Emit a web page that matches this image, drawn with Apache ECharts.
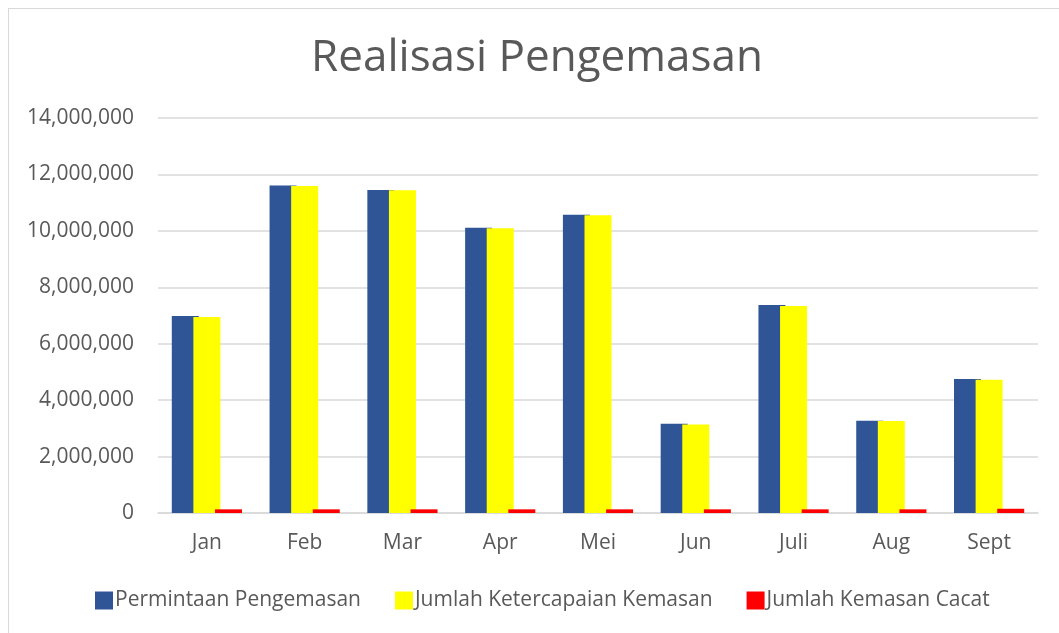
<!DOCTYPE html>
<html>
<head>
<meta charset="utf-8">
<script src="https://cdn.jsdelivr.net/npm/echarts@6/dist/echarts.min.js"></script>
<style>
  html, body { margin: 0; padding: 0; background: #fff; }
  #frame {
    position: absolute; left: 8px; top: 8px; width: 1060px; height: 640px;
    border-left: 1px solid #d9d9d9; border-top: 1px solid #d9d9d9;
  }
  #chart { position: absolute; left: 0; top: 0; width: 1059px; height: 633px; }
</style>
</head>
<body>
<div id="frame"></div>
<div id="chart"></div>
<script>
const months = ['Jan', 'Feb', 'Mar', 'Apr', 'Mei', 'Jun', 'Juli', 'Aug', 'Sept']
const permintaan = [6980000, 11610000, 11450000, 10110000, 10570000, 3160000, 7370000, 3270000, 4750000]
const ketercapaian = [6950000, 11590000, 11440000, 10090000, 10550000, 3140000, 7340000, 3260000, 4720000]
const cacat = [130000, 130000, 130000, 130000, 130000, 130000, 130000, 130000, 150000]
const yTicks = [0, 2000000, 4000000, 6000000, 8000000, 10000000, 12000000, 14000000]

const font = '"Open Sans", "Noto Sans", sans-serif'
const textColor = '#595959'

function fmt(v) {
  return v.toLocaleString('en-US')
}

const chart = echarts.init(document.getElementById('chart'))
chart.setOption({
  animation: false,
  title: {
    text: 'Realisasi Pengemasan',
    left: 532,
    textAlign: 'center',
    top: 31,
    textStyle: { color: textColor, fontSize: 44, fontWeight: 'normal', fontFamily: font },
  },
  legend: {
    top: 585,
    left: 90,
    itemWidth: 18,
    itemHeight: 18,
    itemGap: 34,
    icon: 'rect',
    textStyle: { color: textColor, fontSize: 21, fontFamily: font, padding: [0, 0, 0, -3] },
  },
  grid: { left: 158, right: 21, top: 118, bottom: 120, containLabel: false },
  xAxis: {
    type: 'category',
    data: months,
    axisLine: { lineStyle: { color: '#d9d9d9', width: 1.5 } },
    axisTick: { show: false },
    axisLabel: { color: textColor, fontSize: 21, fontFamily: font, margin: 20 },
  },
  yAxis: {
    type: 'value',
    min: yTicks[0],
    max: yTicks[yTicks.length - 1],
    interval: yTicks[1] - yTicks[0],
    axisLine: { show: false },
    axisTick: { show: false },
    splitLine: { lineStyle: { color: '#d9d9d9', width: 1.5 } },
    axisLabel: { color: textColor, fontSize: 21, fontFamily: font, margin: 24, formatter: fmt },
  },
  series: [
    {
      name: 'Permintaan Pengemasan',
      type: 'bar',
      data: permintaan,
      barWidth: 27,
      barGap: '-20%',
      itemStyle: { color: '#2f5597' },
    },
    {
      name: 'Jumlah Ketercapaian Kemasan',
      type: 'bar',
      data: ketercapaian,
      barWidth: 27,
      barGap: '-20%',
      itemStyle: { color: '#ffff00' },
    },
    {
      name: 'Jumlah Kemasan Cacat',
      type: 'bar',
      data: cacat,
      barWidth: 27,
      barGap: '-20%',
      itemStyle: { color: '#ff0000' },
    },
  ],
})
</script>
</body>
</html>
